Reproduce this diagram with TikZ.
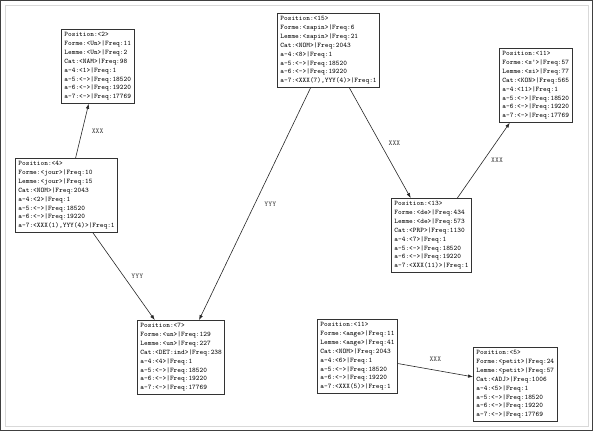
\documentclass[tikz,border=0pt]{standalone}
\usepackage{fontspec}
\usetikzlibrary{arrows.meta}
\begin{document}
\begin{tikzpicture}[x=1bp,y=-1bp,
    rec/.style={draw=black!80,line width=0.8bp,fill=white,anchor=north west,align=left,inner sep=3bp,
        font=\ttfamily\fontsize{7}{8.9}\selectfont},
    rel/.style={draw=black!85,line width=0.6bp,-{Latex[length=5bp,width=3.6bp]}},
    lbl/.style={font=\ttfamily\fontsize{7.4}{8}\selectfont,text=black!75}]
    \useasboundingbox (0,0) rectangle (593,431);
    \draw[black!75,line width=1bp] (0.5,0.5) rectangle (592.5,430.5);
    \draw[black!15] (5,5) rectangle (588,426);

    \node[rec] (p2) at (61,29) {Position:<2>\\Forme:<Un>|Freq:11\\Lemme:<Un>|Freq:2\\Cat:<NAM>|Freq:98\\a-4:<1>|Freq:1\\a-5:<->|Freq:18520\\a-6:<->|Freq:19220\\a-7:<->|Freq:17769};
    \node[rec] (p4) at (15,158) {Position:<4>\\Forme:<jour>|Freq:10\\Lemme:<jour>|Freq:15\\Cat:<NOM>|Freq:2043\\a-4:<2>|Freq:1\\a-5:<->|Freq:18520\\a-6:<->|Freq:19220\\a-7:<XXX(1),YYY(4)>|Freq:1};
    \node[rec] (p15) at (277,13) {Position:<15>\\Forme:<sapin>|Freq:6\\Lemme:<sapin>|Freq:21\\Cat:<NOM>|Freq:2043\\a-4:<8>|Freq:1\\a-5:<->|Freq:18520\\a-6:<->|Freq:19220\\a-7:<XXX(7),YYY(4)>|Freq:1};
    \node[rec] (p11a) at (499,48) {Position:<11>\\Forme:<s'>|Freq:57\\Lemme:<si>|Freq:77\\Cat:<KON>|Freq:565\\a-4:<11>|Freq:1\\a-5:<->|Freq:18520\\a-6:<->|Freq:19220\\a-7:<->|Freq:17769};
    \node[rec] (p13) at (391,198) {Position:<13>\\Forme:<de>|Freq:434\\Lemme:<de>|Freq:573\\Cat:<PRP>|Freq:1130\\a-4:<7>|Freq:1\\a-5:<->|Freq:18520\\a-6:<->|Freq:19220\\a-7:<XXX(11)>|Freq:1};
    \node[rec] (p7) at (137,320) {Position:<7>\\Forme:<un>|Freq:129\\Lemme:<un>|Freq:227\\Cat:<DET:ind>|Freq:238\\a-4:<4>|Freq:1\\a-5:<->|Freq:18520\\a-6:<->|Freq:19220\\a-7:<->|Freq:17769};
    \node[rec] (p11b) at (317,319) {Position:<11>\\Forme:<ange>|Freq:11\\Lemme:<ange>|Freq:41\\Cat:<NOM>|Freq:2043\\a-4:<6>|Freq:1\\a-5:<->|Freq:18520\\a-6:<->|Freq:19220\\a-7:<XXX(5)>|Freq:1};
    \node[rec] (p5) at (473,347) {Position:<5>\\Forme:<petit>|Freq:24\\Lemme:<petit>|Freq:57\\Cat:<ADJ>|Freq:1006\\a-4:<5>|Freq:1\\a-5:<->|Freq:18520\\a-6:<->|Freq:19220\\a-7:<->|Freq:17769};

    \draw[rel] (p4) -- (p2) node[lbl,midway,right=6bp] {XXX};
    \draw[rel] (p4) -- (p7) node[lbl,midway,right=4bp] {YYY};
    \draw[rel] (p15) -- (p7) node[lbl,midway,right=6bp] {YYY};
    \draw[rel] (p15) -- (p13) node[lbl,midway,right=5bp] {XXX};
    \draw[rel] (p13) -- (p11a) node[lbl,midway,right=4bp] {XXX};
    \draw[rel] (p11b) -- (p5) node[lbl,midway,above=5bp] {XXX};
\end{tikzpicture}
\end{document}
